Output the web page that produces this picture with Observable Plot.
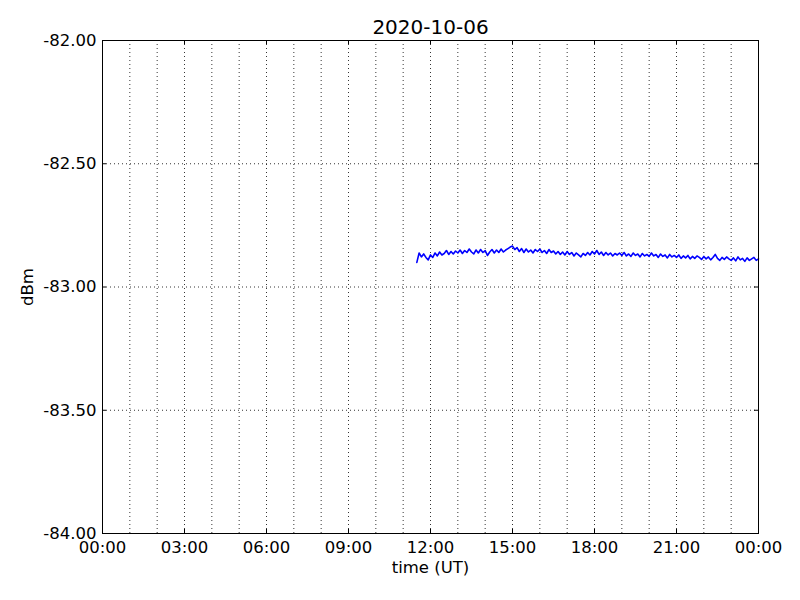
<!DOCTYPE html>
<html>
<head>
<meta charset="utf-8">
<script src="https://cdn.jsdelivr.net/npm/d3@7"></script>
<script src="https://cdn.jsdelivr.net/npm/@observablehq/plot@0.6"></script>
<style>
  html, body { margin: 0; padding: 0; background: #fff; }
</style>
</head>
<body>
<div id="chart"></div>
<script>
const title = "2020-10-06";
const startTime = "2020-10-06T11:30:00Z";
const stepMinutes = 5;
// signal level (dBm) sampled every 5 minutes from 11:30 UT
const h1130 = [-82.900, -82.862, -82.878, -82.866, -82.880, -82.890];
const h12 = [-82.870, -82.880, -82.862, -82.874, -82.858, -82.870, -82.864, -82.852, -82.868, -82.856, -82.866, -82.854];
const h13 = [-82.862, -82.850, -82.864, -82.852, -82.860, -82.846, -82.858, -82.866, -82.850, -82.862, -82.848, -82.860];
const h14 = [-82.852, -82.872, -82.858, -82.848, -82.862, -82.850, -82.860, -82.846, -82.858, -82.850, -82.844, -82.838];
const h15 = [-82.834, -82.848, -82.840, -82.856, -82.844, -82.860, -82.846, -82.858, -82.850, -82.862, -82.848, -82.856];
const h16 = [-82.846, -82.860, -82.852, -82.864, -82.848, -82.860, -82.854, -82.866, -82.856, -82.868, -82.858, -82.870];
const h17 = [-82.856, -82.868, -82.860, -82.874, -82.862, -82.870, -82.878, -82.864, -82.872, -82.860, -82.870, -82.856];
const h18 = [-82.866, -82.852, -82.868, -82.858, -82.872, -82.860, -82.870, -82.862, -82.874, -82.864, -82.870, -82.862];
const h19 = [-82.872, -82.860, -82.874, -82.866, -82.876, -82.862, -82.872, -82.866, -82.878, -82.864, -82.874, -82.868];
const h20 = [-82.876, -82.862, -82.874, -82.868, -82.880, -82.866, -82.876, -82.870, -82.882, -82.868, -82.878, -82.872];
const h21 = [-82.880, -82.870, -82.884, -82.874, -82.882, -82.872, -82.886, -82.876, -82.884, -82.874, -82.880, -82.888];
const h22 = [-82.876, -82.886, -82.878, -82.890, -82.880, -82.868, -82.884, -82.892, -82.880, -82.888, -82.878, -82.886];
const h23 = [-82.892, -82.882, -82.894, -82.878, -82.890, -82.884, -82.896, -82.882, -82.892, -82.886, -82.880, -82.892, -82.886];
const yTicks = [-84.0, -83.5, -83.0, -82.5, -82.0];

const values = [].concat(h1130, h12, h13, h14, h15, h16, h17, h18, h19, h20, h21, h22, h23);
const t0 = new Date(startTime).getTime();
const data = values.map((v, i) => ({t: new Date(t0 + i * stepMinutes * 60000), v}));

const x0 = new Date("2020-10-06T00:00:00Z");
const x1 = new Date("2020-10-07T00:00:00Z");
const hours = d3.utcHour.range(x0, new Date(x1.getTime() + 1));
const major = d3.utcHour.every(3).range(x0, new Date(x1.getTime() + 1));
const plotH = 600 - 40 - 67;
const plotW = 800 - 102 - 42;

const chart = Plot.plot({
  width: 800,
  height: 600,
  marginLeft: 102,
  marginRight: 42,
  marginTop: 40,
  marginBottom: 67,
  style: {fontFamily: "DejaVu Sans", fontSize: "16.5px", background: "white", color: "black"},
  x: {type: "utc", domain: [x0, x1]},
  y: {domain: [-84, -82]},
  marks: [
    Plot.ruleX(hours.slice(1, -1), {stroke: "black", strokeWidth: 0.8, strokeDasharray: "1,3"}),
    Plot.ruleY(yTicks.slice(1, -1), {stroke: "black", strokeWidth: 0.8, strokeDasharray: "1,3"}),
    Plot.tickX(major, {x: d => d, insetTop: plotH - 4, stroke: "black"}),
    Plot.tickX(major, {x: d => d, insetBottom: plotH - 4, stroke: "black"}),
    Plot.tickY(yTicks, {y: d => d, insetRight: plotW - 4, stroke: "black"}),
    Plot.tickY(yTicks, {y: d => d, insetLeft: plotW - 4, stroke: "black"}),
    Plot.line(data, {x: "t", y: "v", stroke: "#0000ff", strokeWidth: 1.6}),
    Plot.frame({stroke: "black", strokeWidth: 1}),
    Plot.axisX({ticks: major, tickFormat: d3.utcFormat("%H:%M"), tickSize: 0, tickPadding: 8, label: null}),
    Plot.axisY({ticks: yTicks, tickFormat: d => d.toFixed(2), tickSize: 0, tickPadding: 6, label: null}),
    Plot.text([title], {text: d => d, frameAnchor: "top", dy: -7, lineAnchor: "bottom", fontSize: 20, fill: "black"}),
    Plot.text(["time (UT)"], {text: d => d, frameAnchor: "bottom", dy: 39, fontSize: 16.5, fill: "black"}),
    Plot.text(["dBm"], {text: d => d, frameAnchor: "left", dx: -75, rotate: -90, textAnchor: "middle", fontSize: 16.5, fill: "black"})
  ]
});
document.getElementById("chart").appendChild(chart);
</script>
</body>
</html>
